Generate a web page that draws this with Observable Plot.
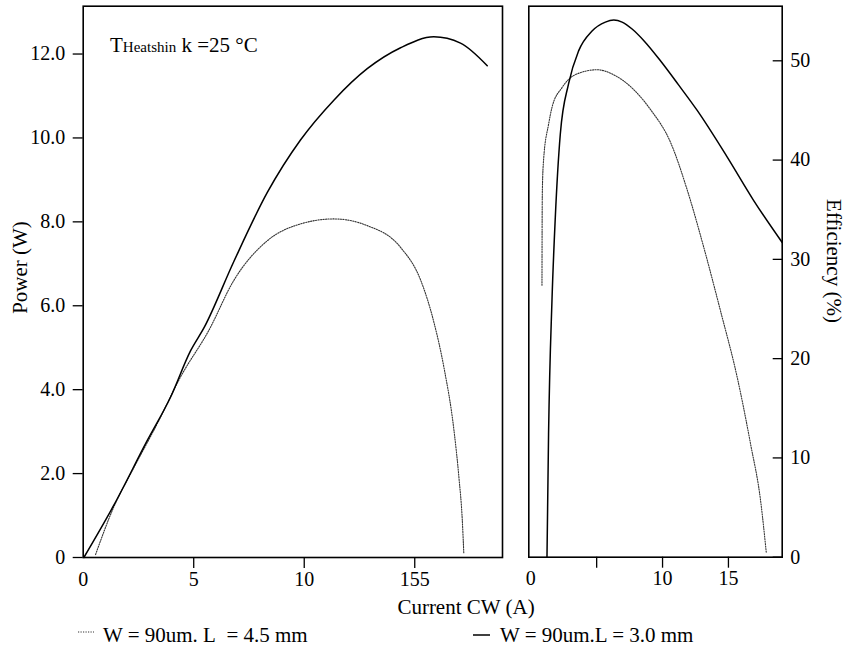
<!DOCTYPE html>
<html>
<head>
<meta charset="utf-8">
<script src="https://cdn.jsdelivr.net/npm/d3@7"></script>
<script src="https://cdn.jsdelivr.net/npm/@observablehq/plot@0.6"></script>
<style>
  html, body { margin: 0; padding: 0; background: white; }
  #wrap { position: relative; width: 845px; height: 649px; font-family: "Liberation Serif", serif; }
  #left, #right, #overlay { position: absolute; top: 0; }
  #left { left: 0; }
  #right { left: 515px; }
  #overlay { left: 0; pointer-events: none; }
</style>
</head>
<body>
<div id="wrap">
  <div id="left"></div>
  <div id="right"></div>
  <svg id="overlay" width="845" height="649"></svg>
</div>
<script>
// ---- data ----
// Power vs current, W = 90 um, L = 4.5 mm (dotted)
const current45P = [0.56, 1.38, 2.14, 3.35, 4.40, 5.68, 6.81, 8.33, 9.83, 11.34, 12.85, 14.36, 15.26, 15.86, 16.32, 16.77, 17.00, 17.15, 17.22];
const power45    = [0.07, 1.20, 1.99, 3.19, 4.30, 5.41, 6.60, 7.55, 7.95, 8.07, 7.91, 7.39, 6.62, 5.62, 4.53, 3.05, 1.90, 0.90, 0.09];
// Power vs current, W = 90 um, L = 3.0 mm (solid)
const current30P = [0.03, 1.38, 2.90, 3.95, 4.86, 5.48, 6.81, 8.33, 9.83, 11.34, 12.85, 14.36, 15.86, 17.07, 18.28];
const power30    = [0.00, 1.24, 2.79, 3.82, 4.93, 5.49, 7.05, 8.70, 9.95, 10.90, 11.65, 12.15, 12.41, 12.26, 11.72];
// Efficiency vs current, L = 4.5 mm (dotted)
const current45E = [0.85, 0.86, 0.88, 0.97, 1.35, 1.61, 2.37, 3.38, 5.03, 6.42, 7.31, 9.08, 10.60, 11.87, 13.13, 14.40, 15.67, 16.68, 17.44, 17.87];
const eff45      = [27.4, 33.0, 37.0, 40.0, 43.6, 45.3, 47.3, 48.6, 49.1, 48.5, 47.7, 45.1, 41.8, 37.0, 31.2, 24.8, 18.1, 11.4, 5.7, 0.5];
// Efficiency vs current, L = 3.0 mm (solid)
const current30E = [1.23, 1.35, 1.61, 1.86, 2.24, 2.87, 3.63, 4.65, 5.66, 6.30, 6.93, 7.69, 8.60, 9.84, 11.20, 12.63, 14.91, 16.93, 19.08];
const eff30      = [0.0, 12.4, 25.9, 34.2, 42.6, 47.7, 51.0, 53.0, 53.9, 54.1, 53.9, 53.2, 52.0, 50.0, 47.6, 45.0, 40.3, 35.9, 31.7];

// ticks
const powerTicks = [0, 2, 4, 6, 8, 10, 12];
const powerTickLabels = ["0", "2.0", "4.0", "6.0", "8.0", "10.0", "12.0"];
const leftXTickMarks = [5, 10, 15];
const leftXTickValues = [0, 5, 10, 15];
const leftXTickLabels = ["0", "5", "10", "155"];
const effTicks = [0, 10, 20, 30, 40, 50];
const rightXTickMarks = [5, 10, 15];
const rightXTickValues = [0, 10, 15];
const rightXTickLabels = ["0", "10", "15"];

const legendLabels = ["W = 90um. L\u00a0 = 4.5 mm", "W = 90um.L = 3.0 mm"];
const xTitle = "Current CW (A)";
const yLeftTitle = "Power (W)";
const yRightTitle = "Efficiency (%)";

// ---- build ----
const toRows = (xs, ys) => xs.map((x, i) => ({x, y: ys[i]}));
const p45 = toRows(current45P, power45);
const p30 = toRows(current30P, power30);
const e45 = toRows(current45E, eff45);
const e30 = toRows(current30E, eff30);

const powerLabelMap = new Map(powerTicks.map((t, i) => [t, powerTickLabels[i]]));
const leftXLabelMap = new Map(leftXTickValues.map((t, i) => [t, leftXTickLabels[i]]));
const rightXLabelMap = new Map(rightXTickValues.map((t, i) => [t, rightXTickLabels[i]]));

const baseStyle = {fontFamily: "Liberation Serif, serif", fontSize: "20px", color: "black", background: "transparent", overflow: "visible"};
const dotted = {stroke: "#333", strokeWidth: 1.1, strokeDasharray: "1.2 1.3"};
const solid = {stroke: "black", strokeWidth: 1.5};

const left = Plot.plot({
  width: 515, height: 600,
  marginLeft: 82.7, marginRight: 13, marginTop: 5.7, marginBottom: 43,
  style: baseStyle,
  x: {domain: [0, 18.97], label: null},
  y: {domain: [0, 13.14], label: null},
  marks: [
    Plot.axisY(powerTicks, {anchor: "left", tickSize: 10, tickPadding: 8, strokeWidth: 1.3, tickFormat: d => powerLabelMap.get(d), label: null}),
    Plot.axisX(leftXTickMarks, {anchor: "bottom", tickSize: 11, strokeWidth: 1.3, tickFormat: () => "", label: null}),
    Plot.axisX(leftXTickValues, {anchor: "bottom", tickSize: 0, tickPadding: 14, tickFormat: d => leftXLabelMap.get(d), label: null}),
    Plot.line(p45, {x: "x", y: "y", curve: "monotone-x", ...dotted}),
    Plot.line(p30, {x: "x", y: "y", curve: "monotone-x", ...solid}),
    Plot.frame({stroke: "black", strokeWidth: 1.6})
  ]
});
document.getElementById("left").appendChild(left);

const right = Plot.plot({
  width: 330, height: 600,
  marginLeft: 13.3, marginRight: 63.3, marginTop: 5.7, marginBottom: 43.3,
  style: baseStyle,
  x: {domain: [-0.15, 19.08], label: null},
  y: {domain: [0, 55.5], label: null},
  marks: [
    Plot.axisY(effTicks, {anchor: "right", tickSize: 10, dx: -10, strokeWidth: 1.3, tickFormat: () => "", label: null}),
    Plot.axisY(effTicks, {anchor: "right", tickSize: 0, tickPadding: 8, label: null}),
    Plot.axisX(rightXTickMarks, {anchor: "bottom", tickSize: 11, strokeWidth: 1.3, tickFormat: () => "", label: null}),
    Plot.axisX(rightXTickValues, {anchor: "bottom", tickSize: 0, tickPadding: 14, tickFormat: d => rightXLabelMap.get(d), label: null}),
    Plot.line(e45, {x: "x", y: "y", curve: "monotone-x", ...dotted}),
    Plot.line(e30, {x: "x", y: "y", curve: "monotone-x", ...solid}),
    Plot.frame({stroke: "black", strokeWidth: 1.6})
  ]
});
document.getElementById("right").appendChild(right);

// ---- overlay text: titles, annotation, legend ----
const ov = d3.select("#overlay").style("font-family", "Liberation Serif, serif").attr("fill", "black");

const ann = ov.append("text").attr("x", 110).attr("y", 52);
ann.append("tspan").attr("font-size", 21).text("T");
ann.append("tspan").attr("font-size", 15).text("Heatshin");
ann.append("tspan").attr("font-size", 21).text(" k =25 \u00b0C");

ov.append("text").attr("x", 466).attr("y", 614).attr("text-anchor", "middle").attr("font-size", 21).text(xTitle);

ov.append("text").attr("transform", "translate(20,267.5) rotate(-90)").attr("text-anchor", "middle")
  .attr("dy", "0.35em").attr("font-size", 21).text(yLeftTitle);
ov.append("text").attr("transform", "translate(834,261) rotate(90)").attr("text-anchor", "middle")
  .attr("dy", "0.35em").attr("font-size", 21).text(yRightTitle);

// legend
ov.append("line").attr("x1", 78).attr("x2", 94).attr("y1", 632).attr("y2", 632)
  .attr("stroke", dotted.stroke).attr("stroke-width", dotted.strokeWidth).attr("stroke-dasharray", dotted.strokeDasharray);
ov.append("text").attr("x", 103).attr("y", 642).attr("font-size", 21).text(legendLabels[0]);
ov.append("line").attr("x1", 473).attr("x2", 490).attr("y1", 635).attr("y2", 635)
  .attr("stroke", "black").attr("stroke-width", 1.5);
ov.append("text").attr("x", 500).attr("y", 642).attr("font-size", 21).text(legendLabels[1]);
</script>
</body>
</html>
